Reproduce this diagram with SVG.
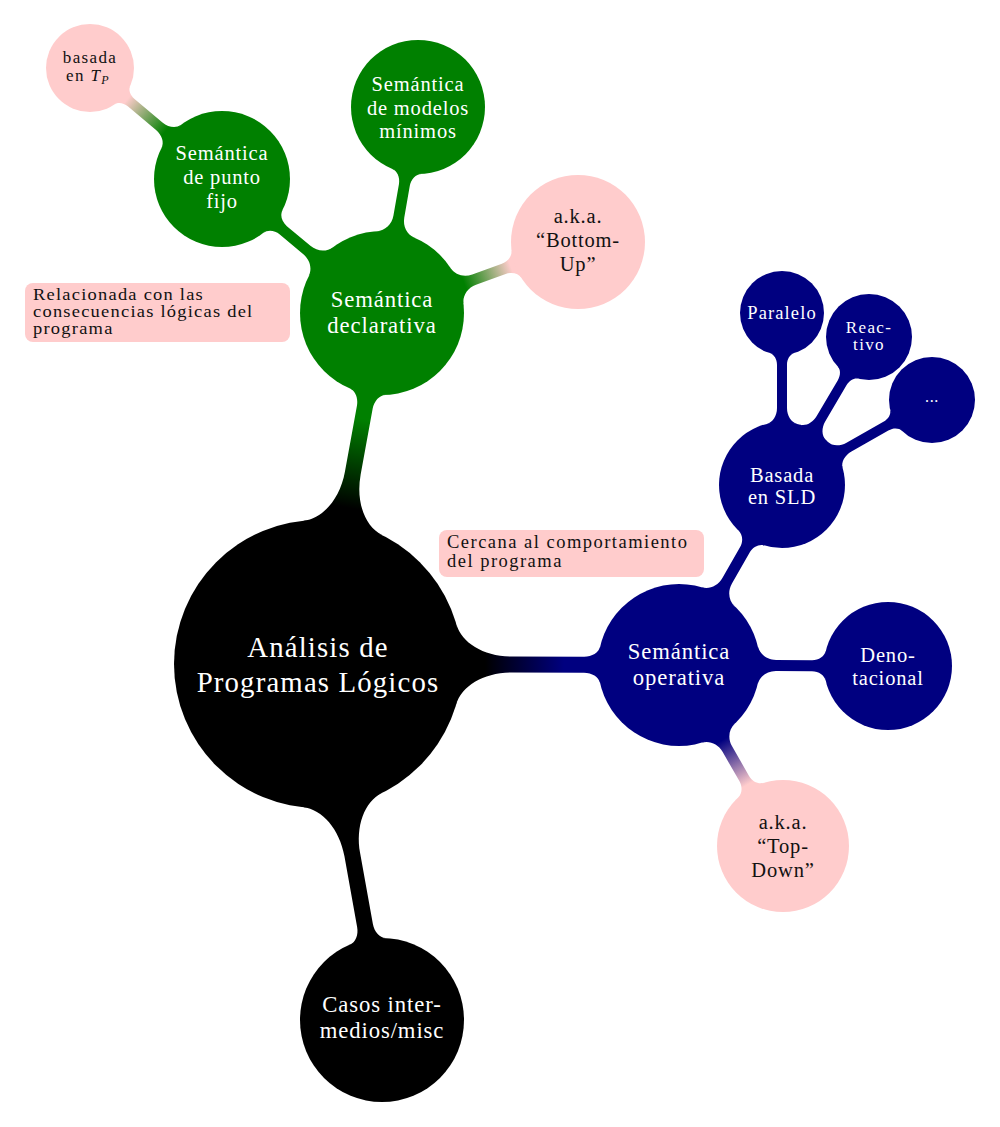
<svg xmlns="http://www.w3.org/2000/svg" width="1000" height="1127" viewBox="0 0 1000 1127">
<defs>
<linearGradient id="gBkGr" x1="0" y1="0" x2="1" y2="0"><stop offset="0.15" stop-color="#000000"/><stop offset="0.8" stop-color="#008000"/></linearGradient>
<linearGradient id="gBkNv" x1="0" y1="0" x2="1" y2="0"><stop offset="0.2" stop-color="#000000"/><stop offset="0.75" stop-color="#000080"/></linearGradient>
<linearGradient id="gGrPk" x1="0" y1="0" x2="1" y2="0"><stop offset="0.12" stop-color="#008000"/><stop offset="0.9" stop-color="#ffcccc"/></linearGradient>
<linearGradient id="gNvPk" x1="0" y1="0" x2="1" y2="0"><stop offset="0.12" stop-color="#000080"/><stop offset="0.9" stop-color="#ffcccc"/></linearGradient>
<style>
.t{font-family:"Liberation Serif","Times New Roman",serif;text-anchor:middle;letter-spacing:0.04em}
.tb{font-family:"Liberation Serif","Times New Roman",serif;font-size:18.5px;letter-spacing:0.08em;fill:#111}
.tb2{font-family:"Liberation Serif","Times New Roman",serif;font-size:16.5px;letter-spacing:1.1px;fill:#111}
.w{fill:#ffffff}
.k{fill:#111111}
.s0{font-size:28.8px}
.s1{font-size:22.7px}
.s2{font-size:20.5px}
.s3{font-size:18.5px;letter-spacing:0.06em}
.s4{font-size:17px;letter-spacing:0.08em}
.bk{fill:#000000}
.gr{fill:#008000}
.nv{fill:#000080}
.pk{fill:#ffcccc}
</style>
</defs>
<rect width="1000" height="1127" fill="#ffffff"/>
<g id="connectors">
<path fill="url(#gBkGr)" transform="translate(318,664) rotate(-79.67)" d="M138.33,-40 C143.66,-21.56 166.17,-8 194,-8 L260.8,-8 C268.8,-8 275.48,-12.15 276.8,-18 L276.8,18 C275.48,12.15 268.8,8 260.8,8 L194,8 C166.17,8 143.66,21.56 138.33,40 Z"/>
<path fill="url(#gBkNv)" transform="translate(318,664) rotate(0.16)" d="M138.33,-40 C143.66,-21.56 166.17,-8 194,-8 L266,-8 C274.02,-8 280.7,-12.15 282.03,-18 L282.03,18 C280.7,12.15 274.02,8 266,8 L194,8 C166.17,8 143.66,21.56 138.33,40 Z"/>
<path class="bk" transform="translate(318,664) rotate(79.81)" d="M138.33,-40 C143.66,-21.56 166.17,-8 194,-8 L265.7,-8 C273.7,-8 280.38,-12.15 281.7,-18 L281.7,18 C280.38,12.15 273.7,8 265.7,8 L194,8 C166.17,8 143.66,21.56 138.33,40 Z"/>
<path class="gr" transform="translate(382,313) rotate(-140.05)" d="M79.77,-19 C81.65,-11.12 88.88,-5.5 98,-5.5 L128.7,-5.5 C135.54,-5.5 141.11,-9.44 142.37,-15 L142.37,15 C141.11,9.44 135.54,5.5 128.7,5.5 L98,5.5 C88.88,5.5 81.65,11.12 79.77,19 Z"/>
<path class="gr" transform="translate(382,313) rotate(-80.09)" d="M79.77,-19 C81.65,-11.12 88.88,-5.5 98,-5.5 L130.1,-5.5 C136.95,-5.5 142.52,-9.44 143.8,-15 L143.8,15 C142.52,9.44 136.95,5.5 130.1,5.5 L98,5.5 C88.88,5.5 81.65,11.12 79.77,19 Z"/>
<path fill="url(#gGrPk)" transform="translate(382,313) rotate(-19.91)" d="M79.77,-19 C81.65,-11.12 88.88,-5.5 98,-5.5 L129.5,-5.5 C136.35,-5.5 141.92,-9.44 143.2,-15 L143.2,15 C141.92,9.44 136.35,5.5 129.5,5.5 L98,5.5 C88.88,5.5 81.65,11.12 79.77,19 Z"/>
<path fill="url(#gGrPk)" transform="translate(222,179) rotate(-139.94)" d="M66.33,-15 C67.65,-9.15 74.16,-5 82,-5 L118.5,-5 C124.34,-5 129.02,-7.96 130.17,-12 L130.17,12 C129.02,7.96 124.34,5 118.5,5 L82,5 C74.16,5 67.65,9.15 66.33,15 Z"/>
<path class="nv" transform="translate(679,665) rotate(-60.22)" d="M78.74,-19 C80.64,-11.13 87.87,-5.5 97,-5.5 L132.4,-5.5 C139.3,-5.5 144.85,-9.46 146.21,-15 L146.21,15 C144.85,9.46 139.3,5.5 132.4,5.5 L97,5.5 C87.87,5.5 80.64,11.13 78.74,19 Z"/>
<path class="nv" transform="translate(679,665) rotate(0.27)" d="M78.74,-19 C80.64,-11.13 87.87,-5.5 97,-5.5 L133,-5.5 C139.89,-5.5 145.44,-9.46 146.78,-15 L146.78,15 C145.44,9.46 139.89,5.5 133,5.5 L97,5.5 C87.87,5.5 80.64,11.13 78.74,19 Z"/>
<path fill="url(#gNvPk)" transform="translate(679,665) rotate(60.12)" d="M78.74,-19 C80.64,-11.13 87.87,-5.5 97,-5.5 L130.75,-5.5 C137.62,-5.5 143.18,-9.45 144.48,-15 L144.48,15 C143.18,9.45 137.62,5.5 130.75,5.5 L97,5.5 C87.87,5.5 80.64,11.13 78.74,19 Z"/>
<path class="nv" transform="translate(782,485) rotate(-90)" d="M61.19,-15 C62.62,-9.17 69.1,-5 77,-5 L120,-5 C125.88,-5 130.55,-7.98 131.75,-12 L131.75,12 C130.55,7.98 125.88,5 120,5 L77,5 C69.1,5 62.62,9.17 61.19,15 Z"/>
<path class="nv" transform="translate(782,485) rotate(-59.55)" d="M61.19,-15 C62.62,-9.17 69.1,-5 77,-5 L118.7,-5 C124.56,-5 129.24,-7.97 130.41,-12 L130.41,12 C129.24,7.97 124.56,5 118.7,5 L77,5 C69.1,5 62.62,9.17 61.19,15 Z"/>
<path class="nv" transform="translate(782,485) rotate(-29.54)" d="M61.19,-15 C62.62,-9.17 69.1,-5 77,-5 L119.4,-5 C125.26,-5 129.94,-7.97 131.11,-12 L131.11,12 C129.94,7.97 125.26,5 119.4,5 L77,5 C69.1,5 62.62,9.17 61.19,15 Z"/>
</g>
<g id="node-root">
<circle class="bk" cx="318" cy="664" r="144"/>
<text class="t w s0" x="318" y="657">Análisis de<tspan x="318" dy="35">Programas Lógicos</tspan></text>
</g>
<g id="node-declarativa">
<circle class="gr" cx="382" cy="313" r="82"/>
<text class="t w s1" x="382" y="307">Semántica<tspan x="382" dy="26">declarativa</tspan></text>
</g>
<g id="node-punto-fijo">
<circle class="gr" cx="222" cy="179" r="68"/>
<text class="t w s2" x="222" y="160">Semántica<tspan x="222" dy="24">de punto</tspan><tspan x="222" dy="24">fijo</tspan></text>
</g>
<g id="node-modelos-minimos">
<circle class="gr" cx="418" cy="107" r="67"/>
<text class="t w s2" x="418" y="91">Semántica<tspan x="418" dy="24">de modelos</tspan><tspan x="418" dy="23">mínimos</tspan></text>
</g>
<g id="node-basada-tp">
<circle class="pk" cx="90" cy="68" r="44"/>
<text class="t k s4" x="90" y="63">basada<tspan x="88" dy="18">en </tspan><tspan font-style="italic">T</tspan><tspan font-style="italic" font-size="12" dy="3">P</tspan></text>
</g>
<g id="node-bottom-up">
<circle class="pk" cx="578" cy="242" r="67"/>
<text class="t k s2" x="578" y="223">a.k.a.<tspan x="578" dy="24">“Bottom-</tspan><tspan x="578" dy="24">Up”</tspan></text>
</g>
<g id="node-operativa">
<circle class="nv" cx="679" cy="665" r="81"/>
<text class="t w s1" x="679" y="659">Semántica<tspan x="679" dy="26">operativa</tspan></text>
</g>
<g id="node-sld">
<circle class="nv" cx="782" cy="485" r="63"/>
<text class="t w s2" x="782" y="482">Basada<tspan x="782" dy="22">en SLD</tspan></text>
</g>
<g id="node-paralelo">
<circle class="nv" cx="782" cy="313" r="42"/>
<text class="t w s3" x="782" y="319">Paralelo</text>
</g>
<g id="node-reactivo">
<circle class="nv" cx="869" cy="337" r="43"/>
<text class="t w s4" x="869" y="332.5">Reac-<tspan x="869" dy="17.5">tivo</tspan></text>
</g>
<g id="node-etc">
<circle class="nv" cx="932" cy="400" r="43"/>
<text class="t w" x="932" y="402" font-size="16">...</text>
</g>
<g id="node-denotacional">
<circle class="nv" cx="888" cy="666" r="64"/>
<text class="t w s2" x="888" y="662">Deno-<tspan x="888" dy="23">tacional</tspan></text>
</g>
<g id="node-top-down">
<circle class="pk" cx="783" cy="846" r="66"/>
<text class="t k s2" x="783" y="829">a.k.a.<tspan x="783" dy="24">“Top-</tspan><tspan x="783" dy="24">Down”</tspan></text>
</g>
<g id="node-casos">
<circle class="bk" cx="382" cy="1020" r="82"/>
<text class="t w s1" x="382" y="1012">Casos inter-<tspan x="382" dy="26">medios/misc</tspan></text>
</g>
<g id="note-declarativa">
<rect class="pk" x="25" y="283" width="265" height="59" rx="8"/>
<text class="tb2" transform="translate(33,0) scale(1.12,1)" x="0" y="300">Relacionada con las<tspan x="0" dy="17">consecuencias lógicas del</tspan><tspan x="0" dy="17">programa</tspan></text>
</g>
<g id="note-operativa">
<rect class="pk" x="439" y="530" width="265" height="47" rx="8"/>
<text class="tb" x="447" y="548">Cercana al comportamiento<tspan x="447" dy="19">del programa</tspan></text>
</g>
</svg>
